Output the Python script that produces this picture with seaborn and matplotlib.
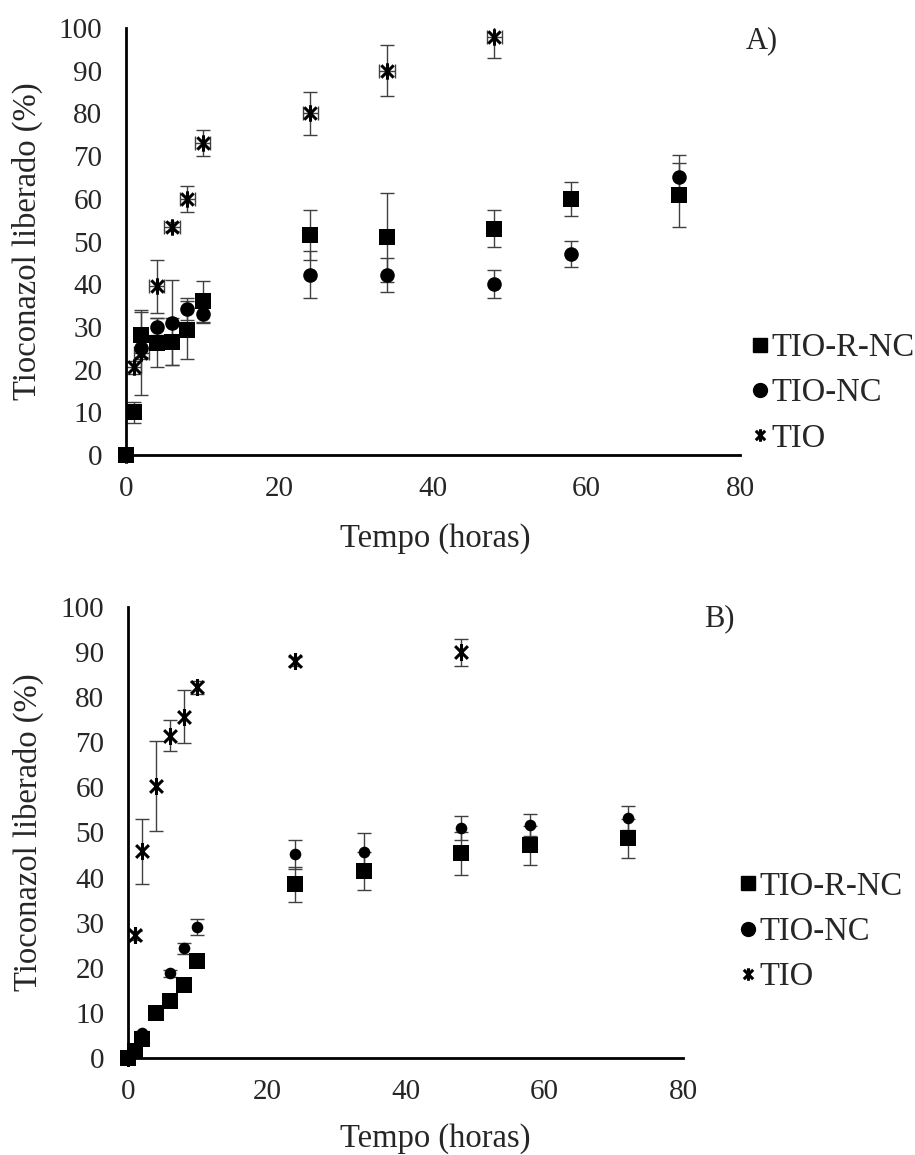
import pandas as pd
import seaborn as sns
import matplotlib.pyplot as plt
from matplotlib.path import Path
from matplotlib.lines import Line2D

# sampling times (h)
hours = [0, 1, 2, 4, 6, 8, 10, 24, 34, 48, 58, 72]
hours_tio_a = [0, 1, 2, 4, 6, 8, 10, 24, 34, 48]
hours_tio_b = [0, 1, 2, 4, 6, 8, 10, 24, 48]

# panel A
rnc_a = [0, 10, 28, 26.3, 26.5, 29.3, 36, 51.5, 51, 53, 60, 61]
rnc_a_err = [0, 2.5, 5.5, 5.8, 5.5, 6.8, 4.8, 5.8, 10.4, 4.4, 4, 7.5]
nc_a = [0, 10, 25, 30, 31, 34.2, 33, 42.2, 42.2, 40, 47, 65]
nc_a_err = [0, 1, 2, 2, 10, 2.6, 2, 5.5, 4, 3.3, 3, 5.2]
tio_a = [0, 20.5, 24, 39.5, 53.5, 60, 73, 80, 90, 98]
tio_a_err = [0, 1.5, 10, 6.2, 1, 3, 3, 5, 6, 5]
tio_a_xerr = [0, 1, 1, 1, 1, 1, 1, 1, 1, 1]

# panel B
rnc_b = [0, 1.6, 4.3, 10, 12.7, 16.1, 21.4, 38.5, 41.4, 45.4, 47.2, 48.7]
rnc_b_err = [0, 0.5, 0.8, 0.8, 1, 1, 1, 3.9, 4.2, 4.8, 4.3, 4.3]
nc_b = [0, 1.5, 5.5, 10, 18.8, 24.3, 29, 45.2, 45.7, 51, 51.6, 53.2]
nc_b_err = [0, 0.5, 0.5, 0.5, 0.8, 1.3, 1.8, 3.2, 4.3, 2.6, 2.4, 2.6]
tio_b = [0, 27.2, 45.8, 60.3, 71.5, 75.7, 82.2, 88, 90]
tio_b_err = [0, 1, 7.2, 10, 3.5, 5.8, 1.5, 1, 3]

labels = ["TIO-R-NC", "TIO-NC", "TIO"]

sns.set_style("white")
plt.rcParams["font.family"] = ["Liberation Serif", "DejaVu Serif"]
plt.rcParams["font.size"] = 20

star = Path([(0, -1), (0, 1), (-0.75, -0.75), (0.75, 0.75), (-0.75, 0.75), (0.75, -0.75)],
            [Path.MOVETO, Path.LINETO, Path.MOVETO, Path.LINETO, Path.MOVETO, Path.LINETO])

fig = plt.figure(figsize=(9.15, 11.55), dpi=100)
ax_a = fig.add_axes([126 / 915, 700 / 1155, 614 / 915, 427 / 1155])
ax_b = fig.add_axes([128 / 915, 97 / 1155, 555 / 915, 451 / 1155])

panels = [
    (ax_a, "A)", (rnc_a, rnc_a_err, nc_a, nc_a_err, tio_a, tio_a_err, tio_a_xerr, hours_tio_a),
     dict(sq=121, ci=110, st=140), (0.99, 0.145), (1.035, 0.97), -0.135, -0.16, 0.503),
    (ax_b, "B)", (rnc_b, rnc_b_err, nc_b, nc_b_err, tio_b, tio_b_err, None, hours_tio_b),
     dict(sq=121, ci=70, st=150), (1.07, 0.28), (1.065, 0.975), -0.152, -0.145, 0.553),
]

for ax, tag, d, sz, leg_pos, tag_pos, ylab_x, xlab_y, xlab_x in panels:
    rnc, rnc_err, nc, nc_err, tio, tio_err, tio_xerr, t_tio = d
    ekw = dict(fmt="none", ecolor="#404040", elinewidth=1, capsize=5, capthick=1, zorder=2)
    ax.errorbar(hours, rnc, yerr=rnc_err, **ekw)
    ax.errorbar(hours, nc, yerr=nc_err, **ekw)
    ax.errorbar(t_tio, tio, yerr=tio_err, xerr=tio_xerr, **ekw)

    sns.scatterplot(x=hours, y=rnc, marker="s", s=sz["sq"], color="black",
                    edgecolor="black", linewidth=0, ax=ax, clip_on=False, zorder=3)
    sns.scatterplot(x=hours, y=nc, marker="o", s=sz["ci"], color="black",
                    edgecolor="black", linewidth=0, ax=ax, clip_on=False, zorder=4)
    sns.scatterplot(x=t_tio, y=tio, marker=star, s=sz["st"], color="black",
                    edgecolor="black", linewidth=2.2, ax=ax, clip_on=False, zorder=5)

    ax.set_xlim(0, 80)
    ax.set_ylim(0, 100)
    ax.set_xticks([0, 20, 40, 60, 80])
    ax.set_yticks(range(0, 101, 10))
    ax.tick_params(length=0, labelsize=21)
    ax.tick_params(axis="y", pad=17)
    ax.tick_params(axis="x", pad=15)
    sns.despine(ax=ax)
    for s in ["left", "bottom"]:
        ax.spines[s].set_linewidth(2)
        ax.spines[s].set_color("black")

    ax.set_xlabel("Tempo (horas)", fontsize=23.5)
    ax.set_ylabel("Tioconazol liberado (%)", fontsize=23.5)
    ax.yaxis.set_label_coords(ylab_x, 0.5)
    ax.xaxis.set_label_coords(xlab_x, xlab_y)

    handles = [
        Line2D([], [], ls="none", marker="s", ms=10, color="black"),
        Line2D([], [], ls="none", marker="o", ms=10, color="black"),
        Line2D([], [], ls="none", marker=star, ms=9, color="black", mew=2.2),
    ]
    ax.legend(handles, labels, loc="center left", bbox_to_anchor=leg_pos, frameon=False,
              fontsize=23.5, handletextpad=0.05, handlelength=0.6, labelspacing=0.45, borderpad=0)
    ax.text(tag_pos[0], tag_pos[1], tag, transform=ax.transAxes, fontsize=22,
            ha="center", va="center")

fig.savefig("out.png", dpi=100)
